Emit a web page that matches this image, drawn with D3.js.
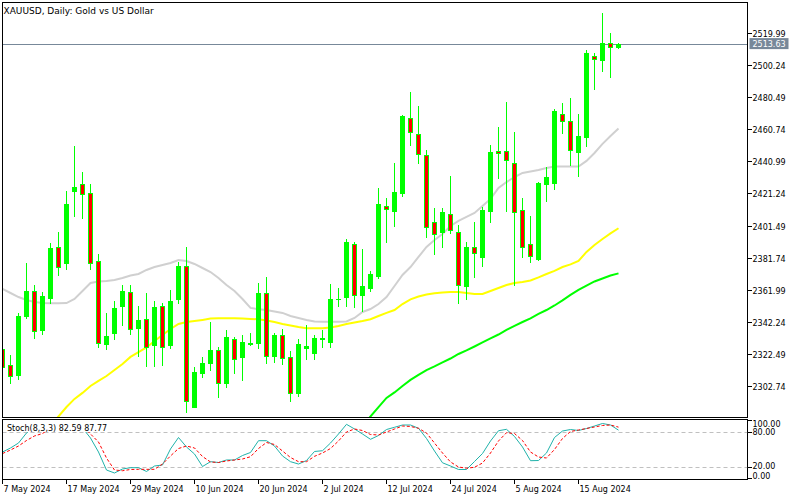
<!DOCTYPE html>
<html><head><meta charset="utf-8">
<script src="https://cdn.jsdelivr.net/npm/d3@7"></script>
<style>body{margin:0;background:#fff}svg{display:block}text{font-family:"DejaVu Sans",sans-serif}</style>
</head><body><svg id="c" width="800" height="500"></svg>
<script>
const dates = ["2024-05-07","2024-05-08","2024-05-09","2024-05-10","2024-05-13","2024-05-14","2024-05-15","2024-05-16","2024-05-17","2024-05-20","2024-05-21","2024-05-22","2024-05-23","2024-05-24","2024-05-27","2024-05-28","2024-05-29","2024-05-30","2024-05-31",
"2024-06-03","2024-06-04","2024-06-05","2024-06-06","2024-06-07","2024-06-10","2024-06-11","2024-06-12","2024-06-13","2024-06-14","2024-06-17","2024-06-18","2024-06-19","2024-06-20","2024-06-21","2024-06-24","2024-06-25","2024-06-26","2024-06-27","2024-06-28",
"2024-07-01","2024-07-02","2024-07-03","2024-07-04","2024-07-05","2024-07-08","2024-07-09","2024-07-10","2024-07-11","2024-07-12","2024-07-15","2024-07-16","2024-07-17","2024-07-18","2024-07-19","2024-07-22","2024-07-23","2024-07-24","2024-07-25","2024-07-26","2024-07-29","2024-07-30","2024-07-31",
"2024-08-01","2024-08-02","2024-08-05","2024-08-06","2024-08-07","2024-08-08","2024-08-09","2024-08-12","2024-08-13","2024-08-14","2024-08-15","2024-08-16","2024-08-19","2024-08-20","2024-08-21","2024-08-22"];

const open = [2325.2,2315.5,2309.4,2345.9,2361.3,2337.1,2357.0,2388.1,2378.2,2422.8,2427.1,2421.4,2379.6,2328.5,2335.4,2352.1,2360.3,2338.5,2343.7,2327.8,
2351.9,2327.8,2356.0,2376.5,2289.8,2310.8,2316.6,2324.6,2304.2,2331.4,2320.3,2328.3,2328.9,2359.7,2321.1,2333.8,2320.3,2298.1,2326.2,2323.1,
2331.4,2329.9,2356.0,2357.3,2389.9,2358.7,2362.8,2370.6,2413.5,2410.6,2421.7,2467.6,2457.9,2445.0,2403.5,2397.3,2408.4,2397.3,2364.4,2388.1,
2382.3,2410.6,2447.6,2447.3,2439.9,2411.1,2389.9,2380.9,2426.9,2427.9,2470.1,2465.9,2447.0,2455.9,2506.0,2503.5,2513.8,2511.7];
const high = [2327.8,2321.7,2347.8,2378.6,2364.8,2360.5,2390.5,2397.5,2422.8,2450.7,2434.5,2427.1,2383.9,2347.8,2355.0,2364.8,2364.8,2351.9,2360.1,2355.0,
2353.6,2361.8,2379.0,2388.1,2314.1,2320.3,2342.2,2326.4,2336.9,2333.0,2334.0,2335.4,2365.9,2369.6,2335.4,2337.5,2324.1,2331.4,2340.2,2334.0,
2337.1,2365.5,2362.8,2393.2,2391.3,2387.0,2373.5,2424.6,2418.5,2440.0,2469.6,2484.0,2475.2,2448.1,2412.1,2412.1,2432.0,2401.8,2391.3,2403.9,
2413.1,2451.1,2462.4,2477.8,2459.3,2418.3,2407.4,2428.5,2437.4,2473.1,2476.8,2479.9,2470.2,2509.7,2507.7,2532.3,2520.4,2513.8];
const low = [2311.8,2304.2,2306.7,2344.7,2332.3,2334.4,2353.6,2371.0,2374.5,2407.6,2406.3,2374.9,2326.8,2325.4,2331.5,2340.2,2334.6,2321.1,2315.1,2315.1,
2315.5,2326.2,2353.6,2286.7,2289.4,2307.9,2312.4,2296.0,2301.8,2310.4,2306.3,2327.8,2325.8,2316.9,2317.5,2316.1,2293.5,2296.4,2319.0,2319.0,
2326.8,2326.8,2351.9,2352.1,2351.1,2349.0,2361.3,2369.1,2391.5,2401.4,2419.9,2451.1,2440.2,2394.2,2383.9,2388.4,2397.1,2353.6,2356.0,2370.0,
2376.5,2403.9,2430.6,2410.6,2364.8,2382.3,2378.8,2380.2,2416.8,2423.8,2458.4,2438.8,2432.2,2450.7,2485.5,2496.9,2493.2,2511.1];
const close = [2314.1,2308.9,2345.7,2361.1,2336.7,2358.1,2387.8,2376.1,2414.8,2425.2,2420.7,2378.2,2328.9,2333.6,2350.8,2361.1,2337.9,2343.3,2326.8,2351.1,
2326.8,2355.0,2376.5,2293.3,2311.0,2316.6,2324.8,2304.2,2332.6,2319.0,2329.7,2329.3,2359.7,2321.1,2334.0,2319.6,2298.1,2328.5,2327.0,2332.0,
2332.2,2356.0,2356.4,2391.3,2358.7,2364.2,2371.6,2414.8,2411.5,2422.2,2469.0,2459.3,2445.4,2400.4,2396.3,2410.0,2398.7,2364.8,2388.4,2384.4,
2411.1,2446.6,2446.4,2441.9,2409.7,2388.1,2382.7,2427.9,2431.2,2472.3,2465.9,2448.1,2456.7,2507.7,2504.3,2513.8,2511.4,2513.63];

const maGrey = [2362.4,2359.9,2357.4,2355.6,2354.4,2353.7,2353.6,2353.6,2353.7,2356.2,2361.1,2366.1,2367.0,2367.3,2367.9,2369.1,2370.7,2371.6,2374.1,2375.9,
2377.2,2378.4,2380.2,2379.6,2377.8,2375.3,2372.8,2369.1,2364.8,2361.1,2356.2,2350.7,2349.9,2349.4,2348.5,2347.6,2345.7,2344.5,2343.3,2342.3,
2342.2,2342.2,2342.2,2342.3,2344.5,2348.2,2350.0,2353.1,2357.4,2364.2,2371.0,2375.9,2382.1,2388.3,2392.6,2396.3,2401.2,2404.3,2406.8,2409.2,
2413.5,2417.9,2424.6,2428.3,2431.4,2433.9,2434.8,2435.7,2437.0,2437.9,2437.9,2437.8,2437.8,2441.3,2446.2,2451.8,2456.7,2461.3];
const maYellow = [null,null,null,null,null,null,2277.9,2283.8,2289.6,2294.6,2298.3,2302.6,2305.7,2308.7,2312.4,2316.1,2320.5,2323.5,2326.3,2330.3,
2334.0,2337.7,2340.8,2342.0,2342.6,2343.3,2344.1,2344.3,2344.3,2344.3,2344.2,2343.9,2343.7,2343.0,2342.0,2340.8,2339.9,2338.9,2338.1,2338.1,
2338.1,2338.6,2339.6,2340.8,2341.7,2342.6,2343.7,2345.7,2347.6,2349.4,2353.1,2356.0,2357.7,2359.0,2359.7,2360.2,2360.5,2360.5,2359.9,2359.3,
2359.3,2361.1,2363.0,2364.8,2366.1,2366.7,2367.6,2369.5,2371.6,2373.5,2375.9,2377.5,2379.6,2385.2,2389.5,2393.2,2396.6,2399.8];
const maGreen = [null,null,null,null,null,null,null,null,null,null,null,null,null,null,null,null,null,null,null,null,
null,null,null,null,null,null,null,null,null,null,null,null,null,null,null,null,null,null,null,null,
null,null,null,null,null,2277.9,2283.8,2289.6,2295.2,2298.6,2302.6,2306.3,2309.4,2312.4,2314.6,2317.1,2319.5,2322.3,2324.5,2326.9,
2329.4,2331.9,2334.3,2337.1,2339.6,2342.0,2344.3,2347.0,2349.4,2352.2,2355.3,2358.7,2361.8,2364.5,2367.0,2368.8,2370.7,2372.0];

const stochK = [45.1,52.0,60.5,77.7,88.0,93.1,96.6,93.1,94.9,96.6,86.3,69.1,45.1,14.2,9.1,16.0,18.2,18.2,11.7,21.1,
22.8,50.3,70.0,53.7,41.7,20.2,28.5,27.1,31.4,31.4,39.1,44.3,64.5,64.5,55.4,38.3,28.5,24.5,30.5,46.0,
47.3,60.5,76.0,92.6,84.6,76.0,66.9,73.4,83.7,87.5,91.4,91.4,85.8,68.3,46.8,26.6,21.1,15.1,15.1,28.8,
42.5,64.0,81.6,84.0,71.7,53.7,30.2,30.5,43.4,70.0,81.1,83.7,82.0,85.4,89.7,94.0,91.4,82.59];
const stochD = [42.5,48.5,55.4,64.8,72.6,76.8,86.3,91.4,94.9,94.9,89.7,76.0,62.3,34.8,14.2,13.0,15.1,15.4,15.4,15.4,
24.5,38.3,51.1,55.4,52.0,37.4,28.0,27.1,29.7,31.4,33.1,37.0,51.1,61.4,58.0,46.8,35.7,28.5,28.5,37.7,
43.4,51.1,64.0,79.4,84.6,82.0,75.1,74.3,79.4,84.6,89.7,88.9,85.8,77.7,60.5,43.4,28.0,19.4,17.3,18.9,
26.2,43.4,64.0,78.2,76.8,64.8,45.1,36.5,34.8,49.4,68.3,80.3,82.8,85.4,88.0,90.6,91.4,87.77];

const priceTicks = [2519.99,2500.24,2480.49,2460.74,2440.99,2421.24,2401.49,2381.74,2361.99,2342.24,2322.49,2302.74];
const stochTicks = [100,80,20,0];
const stochLevels = [80,20];
const dateTicks = ["2024-05-07","2024-05-17","2024-05-29","2024-06-10","2024-06-20","2024-07-02","2024-07-12","2024-07-24","2024-08-05","2024-08-15"];
const lastPrice = 2513.63;
const title = "XAUUSD, Daily:  Gold vs US Dollar";
const stochLabel = "Stoch(8,3,3) 82.59 87.77";

const svg = d3.select("#c");
const GREEN = "#00ff00", RED = "#ff0000";
const L = 2.5, R = 747.5, T = 2.5, MB = 417.5, ST = 419.5, SB = 479.5;

const x = d3.scaleLinear().domain([0, dates.length - 1]).range([2.5, 2.5 + 8 * (dates.length - 1)]);
const y = d3.scaleLinear().domain([2283.45, 2539.28]).range([417, 2]);
const ys = d3.scaleLinear().domain([0, 100]).range([478.3, 420]);

const defs = svg.append("defs");
defs.append("clipPath").attr("id", "cm").append("rect").attr("x", 3).attr("y", 3).attr("width", R - 3).attr("height", MB - 3.5);
defs.append("clipPath").attr("id", "cs").append("rect").attr("x", 3).attr("y", ST + 0.5).attr("width", R - 3).attr("height", SB - ST - 1);

// main pane
const gm = svg.append("g").attr("clip-path", "url(#cm)");
gm.append("line").attr("x1", L).attr("x2", R).attr("y1", Math.round(y(lastPrice)) + 0.5).attr("y2", Math.round(y(lastPrice)) + 0.5)
  .attr("stroke", "#778899").attr("stroke-width", 1);

const maLine = d3.line().defined(d => d != null).x((d, i) => x(i)).y(d => y(d));
[[maGrey, "#d0d0d0"], [maYellow, "#ffff00"], [maGreen, "#00ff00"]].forEach(([arr, col]) => {
  gm.append("path").attr("d", maLine(arr)).attr("fill", "none").attr("stroke", col).attr("stroke-width", 2);
});

const idx = d3.range(dates.length);
gm.selectAll("line.wick").data(idx).join("line").attr("class", "wick")
  .attr("x1", i => x(i)).attr("x2", i => x(i))
  .attr("y1", i => Math.round(y(high[i]))).attr("y2", i => Math.round(y(low[i])) + 1)
  .attr("stroke", GREEN).attr("stroke-width", 1);
idx.forEach(i => {
  const top = Math.round(y(Math.max(open[i], close[i])));
  const bot = Math.round(y(Math.min(open[i], close[i])));
  const h = Math.max(1, bot - top + 1);
  const bx = x(i) - 2.5;
  gm.append("rect").attr("x", bx).attr("y", top).attr("width", 5).attr("height", h).attr("fill", GREEN);
  if (close[i] < open[i] && h > 2) {
    gm.append("rect").attr("x", bx + 1).attr("y", top + 1).attr("width", 3).attr("height", h - 2).attr("fill", RED);
  }
});

// frames
svg.append("rect").attr("x", L).attr("y", T).attr("width", R - L).attr("height", MB - T).attr("fill", "none").attr("stroke", "#000");
svg.append("rect").attr("x", L).attr("y", ST).attr("width", R - L).attr("height", SB - ST).attr("fill", "none").attr("stroke", "#000");

svg.append("text").attr("x", 3.5).attr("y", 13.5).attr("font-size", 9).attr("fill", "#000").text(title);

// price axis
priceTicks.forEach(p => {
  const yy = Math.round(y(p)) + 0.5;
  svg.append("line").attr("x1", R).attr("x2", R + 4.5).attr("y1", yy).attr("y2", yy).attr("stroke", "#000");
  svg.append("text").attr("x", 752.5).attr("y", yy + 3).attr("font-size", 8).attr("fill", "#000").text(d3.format(".2f")(p));
});
const ly = y(lastPrice);
svg.append("rect").attr("x", 749.5).attr("y", ly - 5.5).attr("width", 39).attr("height", 11).attr("fill", "#778899");
svg.append("text").attr("x", 752.5).attr("y", ly + 3).attr("font-size", 8).attr("fill", "#fff").text(d3.format(".2f")(lastPrice));

// stoch pane
const gs = svg.append("g").attr("clip-path", "url(#cs)");
stochLevels.forEach(v => {
  const yy = Math.round(ys(v)) + 0.5;
  gs.append("line").attr("x1", L).attr("x2", R).attr("y1", yy).attr("y2", yy).attr("stroke", "#c0c0c0").attr("stroke-dasharray", "4,3");
});
const sLine = d3.line().x((d, i) => x(i)).y(d => ys(d));
gs.append("path").attr("d", sLine(stochK)).attr("fill", "none").attr("stroke", "#20b2aa").attr("stroke-width", 1);
gs.append("path").attr("d", sLine(stochD)).attr("fill", "none").attr("stroke", RED).attr("stroke-width", 1).attr("stroke-dasharray", "3,2");
gs.append("rect").attr("x", 7).attr("y", 420).attr("width", 100).attr("height", 12).attr("fill", "#fff");
gs.append("text").attr("x", 7).attr("y", 430.5).attr("font-size", 8).attr("fill", "#000").text(stochLabel);

const stochLabelY = {100: 427, 80: 435, 20: 469, 0: 478.5};
stochTicks.forEach(v => {
  const yy = Math.round(ys(v)) + 0.5;
  svg.append("line").attr("x1", R).attr("x2", R + 4.5).attr("y1", yy).attr("y2", yy).attr("stroke", "#000");
  svg.append("text").attr("x", 752.5).attr("y", stochLabelY[v]).attr("font-size", 8).attr("fill", "#000").text(d3.format(".2f")(v));
});

// date axis
const fmt = d3.timeFormat("%-d %b %Y"), parse = d3.timeParse("%Y-%m-%d");
dateTicks.forEach(d => {
  const i = dates.indexOf(d);
  const xx = x(i);
  svg.append("line").attr("x1", xx).attr("x2", xx).attr("y1", SB).attr("y2", SB + 4.5).attr("stroke", "#000");
  svg.append("text").attr("x", xx + 1).attr("y", 492).attr("font-size", 8).attr("fill", "#000").text(fmt(parse(d)));
});
</script></body></html>
